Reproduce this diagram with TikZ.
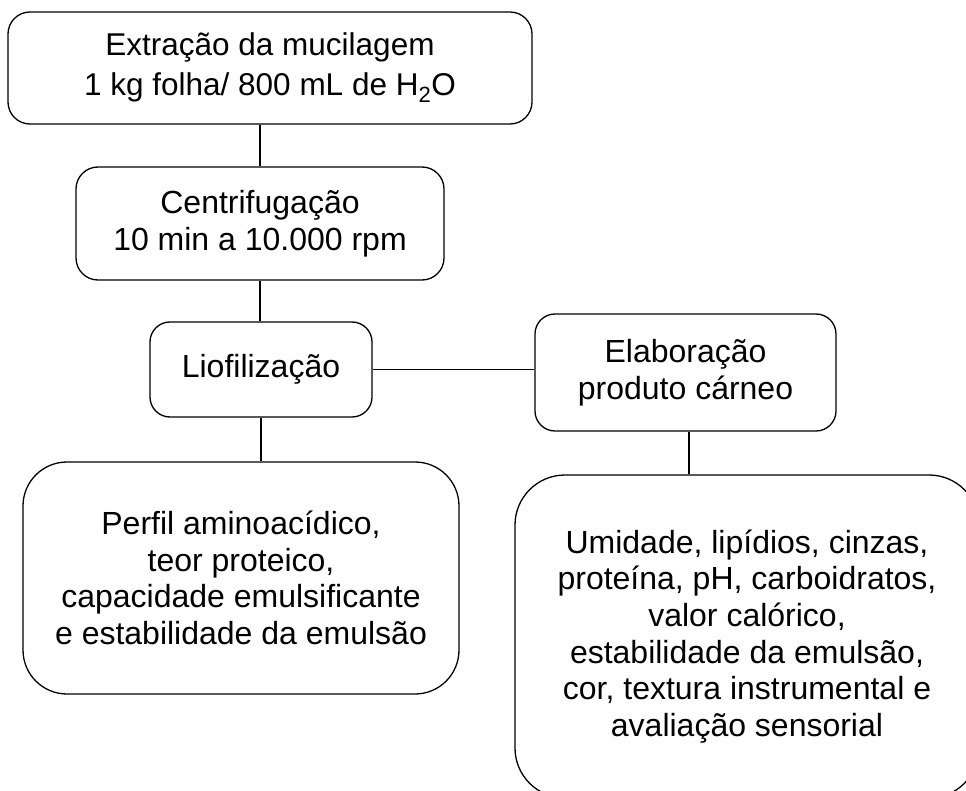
\documentclass[tikz,border=0pt]{standalone}
\usepackage{fontspec}
\setmainfont{Liberation Sans}
\begin{document}
\begin{tikzpicture}[x=1pt,y=-1pt,
  box/.style={draw=black,line width=1.3pt,align=center,inner sep=0pt,
    font=\fontsize{32}{36.7}\selectfont},
  link/.style={draw=black,line width=1.3pt}]
\useasboundingbox (0,0) rectangle (966,791);
\node[box,rounded corners=22pt,minimum width=524pt,minimum height=112pt,
  font=\fontsize{31.5}{40}\selectfont] (b1) at (270,68)
  {Extração da mucilagem\\1 kg folha/ 800 mL de H\textsubscript{2}O};
\node[box,rounded corners=22pt,minimum width=368pt,minimum height=113pt] (b2) at (260,223.5)
  {Centrifugação\\10 min a 10.000 rpm};
\node[box,rounded corners=20pt,minimum width=222pt,minimum height=95pt] (b3) at (261,369.5)
  {Liofilização};
\node[box,rounded corners=20pt,minimum width=301pt,minimum height=117pt] (b4) at (685.5,372.5)
  {Elaboração\\produto cárneo};
\node[box,rounded corners=44pt,minimum width=436pt,minimum height=232pt] (b5) at (241,578)
  {Perfil aminoacídico,\\teor proteico,\\capacidade emulsificante\\e estabilidade da emulsão};
\node[box,rounded corners=50pt,minimum width=464pt,minimum height=323pt] (b6) at (747,636.5)
  {Umidade, lipídios, cinzas,\\proteína, pH, carboidratos,\\valor calórico,\\estabilidade da emulsão,\\cor, textura instrumental e\\avaliação sensorial};
\draw[link] (b2.north |- b1.south) -- (b2.north);
\draw[link] (b2.south) -- (b2.south |- b3.north);
\draw[link] (b3.south) -- (b3.south |- b5.north);
\draw[link] (b3.east) -- (b3.east -| b4.west);
\draw[link] ([xshift=3.5pt]b4.south) -- ([xshift=3.5pt]b4.south |- b6.north);
\end{tikzpicture}
\end{document}
